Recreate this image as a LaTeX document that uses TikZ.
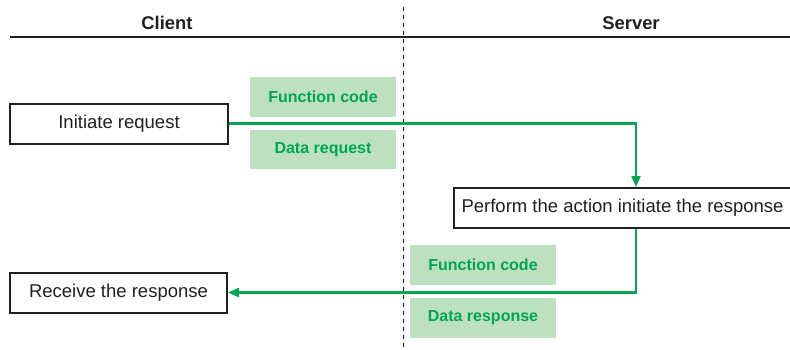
\documentclass[tikz,border=0pt]{standalone}
\usepackage{fontspec}
\setmainfont{Liberation Sans}
\usetikzlibrary{arrows.meta,calc}
\definecolor{ink}{HTML}{231F20}
\definecolor{flow}{HTML}{00A651}
\definecolor{tag}{HTML}{BDE0C0}
\tikzset{
  title/.style={font=\fontsize{18.4}{20}\selectfont\bfseries, text=ink},
  stepbox/.style={draw=ink, line width=2pt, fill=white, inner sep=0pt,
    font=\fontsize{18.5}{20}\selectfont, text=ink},
  tagbox/.style={fill=tag, inner sep=0pt, minimum width=146, minimum height=40,
    font=\fontsize{16}{18}\selectfont\bfseries, text=flow},
  flowline/.style={draw=flow, line width=2.2pt, -{Triangle[length=11pt,width=9pt]}},
}
\begin{document}
\begin{tikzpicture}[x=1pt,y=-1pt]
\useasboundingbox (0,0) rectangle (790,349);
\node[title] (client) at (167,23) {Client};
\node[title] (server) at (631,23) {Server};
\coordinate (hl) at (10,37);
\coordinate (hr) at (790,37);
\draw[ink, line width=2.5pt] (hl) -- (hr);
\coordinate (dt) at (403,7);
\coordinate (db) at (403,349);
\draw[ink, line width=1pt, dash pattern=on 4pt off 4pt] (dt) -- (db);

\node[stepbox, minimum width=218, minimum height=40] (init) at (119,123.5) {Initiate request};
\node[tagbox] (fc1) at (323,97) {Function code};
\node[tagbox, minimum height=39] (dr1) at (323,149.5) {Data request};
\node[stepbox, minimum width=337, minimum height=40] (perf) at (622.5,208) {Perform the action initiate the response};
\node[tagbox] (fc2) at (483,265) {Function code};
\node[tagbox] (dr2) at (483,318) {Data response};
\node[stepbox, minimum width=217, minimum height=40] (recv) at (118.5,292.5) {Receive the response};

\draw[flowline] (init.east) -| ([xshift=13.5]perf.north);
\draw[flowline] ([xshift=13.5]perf.south) |- (recv.east);
\end{tikzpicture}
\end{document}
